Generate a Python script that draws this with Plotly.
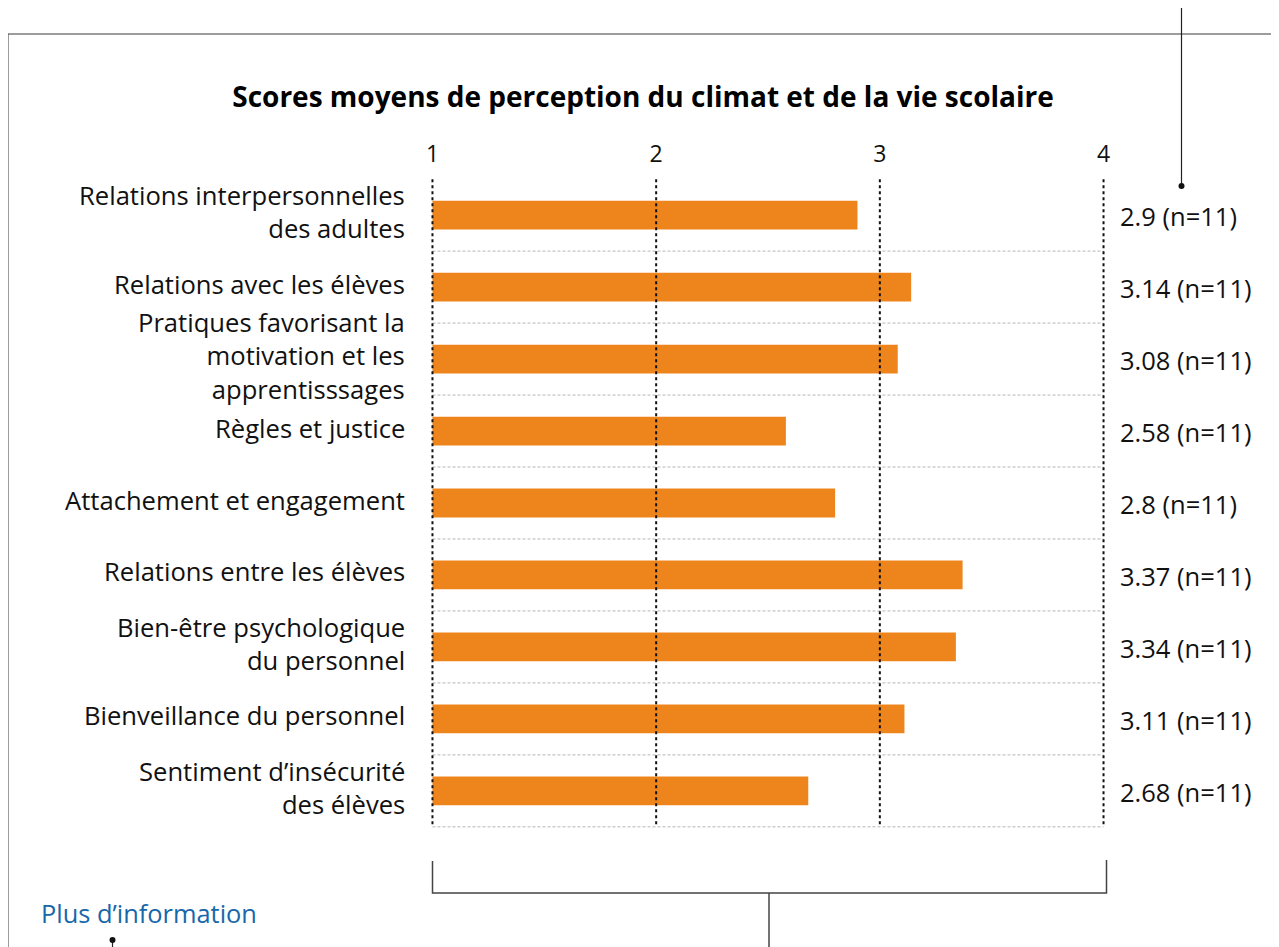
import plotly.graph_objects as go

categories = [
    "Relations interpersonnelles<br>des adultes",
    "Relations avec les élèves",
    "Pratiques favorisant la<br>motivation et les<br>apprentisssages",
    "Règles et justice",
    "Attachement et engagement",
    "Relations entre les élèves",
    "Bien-être psychologique<br>du personnel",
    "Bienveillance du personnel",
    "Sentiment d’insécurité<br>des élèves",
]
scores = [2.9, 3.14, 3.08, 2.58, 2.8, 3.37, 3.34, 3.11, 2.68]
counts = [11, 11, 11, 11, 11, 11, 11, 11, 11]
x_ticks = [1, 2, 3, 4]
title_text = "Scores moyens de perception du climat et de la vie scolaire"
footer_text = "Plus d’information"

OFF = 8  # page body margin
W, H = 1271, 939
ML, MR, MT, MB = 420, 171, 169, 118
PW, PH = W - ML - MR, H - MT - MB
FONT = "Open Sans"
ORANGE = "#EE851C"


def px(x):
    return (x - OFF - ML) / PW


def py(y):
    return (H - MB - (y - OFF)) / PH


idx = list(range(len(categories)))
base = x_ticks[0]

fig = go.Figure()
fig.add_trace(go.Bar(
    y=idx,
    x=[s - base for s in scores],
    base=base,
    orientation="h",
    width=0.4,
    marker=dict(color=ORANGE, line=dict(width=0)),
    hoverinfo="skip",
))

shapes = []
for i in idx:
    shapes.append(dict(type="line", xref="x", yref="y", x0=x_ticks[0], x1=x_ticks[-1],
                       y0=i + 0.5, y1=i + 0.5, layer="below",
                       line=dict(color="#b5b5b5", width=1, dash="3px,2px")))
for t in x_ticks:
    shapes.append(dict(type="line", xref="x", yref="y", x0=t, x1=t,
                       y0=-0.5, y1=len(categories) - 0.5, layer="above",
                       line=dict(color="#111111", width=2, dash="dot")))

deco = "#3a3a3a"
shapes += [
    dict(type="line", xref="paper", yref="paper", x0=px(8), x1=px(1300), y0=py(34), y1=py(34),
         line=dict(color=deco, width=1)),
    dict(type="line", xref="paper", yref="paper", x0=px(8), x1=px(8), y0=py(34), y1=py(970),
         line=dict(color=deco, width=1)),
    dict(type="line", xref="paper", yref="paper", x0=px(1181.5), x1=px(1181.5), y0=py(6), y1=py(186),
         line=dict(color="#222", width=1.2)),
    dict(type="circle", xref="paper", yref="paper", x0=px(1178.5), x1=px(1184.5), y0=py(183), y1=py(189),
         fillcolor="#111", line=dict(color="#111", width=0)),
    dict(type="path", xref="paper", yref="paper",
         path=f"M {px(432.5)} {py(861)} L {px(432.5)} {py(893)} L {px(1106.5)} {py(893)} L {px(1106.5)} {py(860)}",
         line=dict(color="#444", width=1.5)),
    dict(type="line", xref="paper", yref="paper", x0=px(769), x1=px(769), y0=py(893), y1=py(970),
         line=dict(color="#444", width=1.5)),
    dict(type="line", xref="paper", yref="paper", x0=px(112.5), x1=px(112.5), y0=py(940), y1=py(970),
         line=dict(color="#222", width=1.2)),
    dict(type="circle", xref="paper", yref="paper", x0=px(109.5), x1=px(115.5), y0=py(937), y1=py(943),
         fillcolor="#111", line=dict(color="#111", width=0)),
]

annotations = []
for i, cat in enumerate(categories):
    annotations.append(dict(
        x=x_ticks[0], y=i, xref="x", yref="y", xanchor="right", yanchor="middle", align="right",
        xshift=-25, yshift=3, showarrow=False,
        text=cat, font=dict(family=FONT, size=25.6, color="#111"),
    ))
for i, (s, n) in enumerate(zip(scores, counts)):
    annotations.append(dict(
        x=x_ticks[-1], y=i, xref="x", yref="y", xanchor="left", yanchor="middle",
        xshift=14, yshift=-1, showarrow=False,
        text=f"{s} (n={n})", font=dict(family=FONT, size=25.5, color="#111"),
    ))
annotations.append(dict(
    x=px(39), y=py(913), xref="paper", yref="paper", xanchor="left", yanchor="middle",
    showarrow=False, text=footer_text, font=dict(family=FONT, size=25.4, color="#1767A9"),
))

fig.update_layout(
    width=W, height=H,
    margin=dict(l=ML, r=MR, t=MT, b=MB, autoexpand=False),
    paper_bgcolor="white", plot_bgcolor="white",
    showlegend=False,
    title=dict(text=f"<b>{title_text}</b>", x=(643 - OFF) / W, xref="container", xanchor="center",
               y=1 - (97 - OFF) / H, yref="container", yanchor="middle",
               font=dict(family=FONT, size=28, color="#000")),
    xaxis=dict(range=[0.98, 4.02], side="top", tickvals=x_ticks, ticktext=[str(t) for t in x_ticks],
               showgrid=False, zeroline=False, showline=False, ticks="",
               ticklabelstandoff=9, tickfont=dict(family=FONT, size=23, color="#111")),
    yaxis=dict(range=[len(categories) - 0.47, -0.53], tickvals=idx, showticklabels=False,
               showgrid=False, zeroline=False, showline=False, ticks=""),
    shapes=shapes,
    annotations=annotations,
)

fig.write_html("out.html")
